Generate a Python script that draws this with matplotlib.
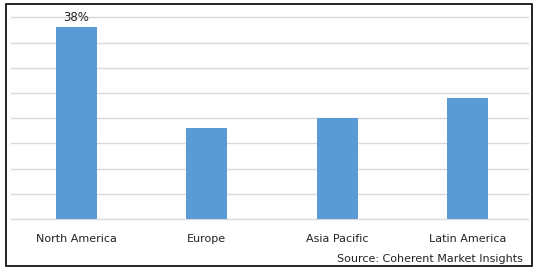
import matplotlib.pyplot as plt
from matplotlib.patches import Rectangle

regions = ['North America', 'Europe', 'Asia Pacific', 'Latin America']
shares = [38, 18, 20, 24]
yticks = [0, 5, 10, 15, 20, 25, 30, 35, 40]

fig = plt.figure(figsize=(5.38, 2.72), dpi=100)
ax = fig.add_axes([11 / 538, 53 / 272, 517 / 538, 201.7 / 272])

x = range(len(regions))
ax.bar(x, shares, width=0.315, color='#5b9bd5', zorder=3)
ax.set_xlim(-0.503, 3.465)
ax.set_ylim(0, 40)
ax.set_yticks(yticks)
ax.set_yticklabels([])
ax.yaxis.grid(True, color='#d9d9d9', linewidth=1, zorder=0)
for gl in ax.get_ygridlines():
    gl.set_clip_on(False)
ax.tick_params(axis='both', length=0)
ax.set_xticks(list(x))
ax.set_xticklabels(regions, fontsize=8, color='#222222')
ax.tick_params(axis='x', pad=11)
for s in ax.spines.values():
    s.set_visible(False)

ax.text(0, 38.6, '38%', ha='center', va='bottom', fontsize=8.5, color='#222222')

fig.text(523 / 538, 1 - 259 / 272, 'Source: Coherent Market Insights',
         ha='right', va='center', fontsize=8, color='#222222')

fig.patches.append(Rectangle((6 / 538, 6 / 272), 526 / 538, 262 / 272,
                             transform=fig.transFigure, fill=False,
                             edgecolor='black', linewidth=1.2))

fig.savefig('out.png', dpi=100)
